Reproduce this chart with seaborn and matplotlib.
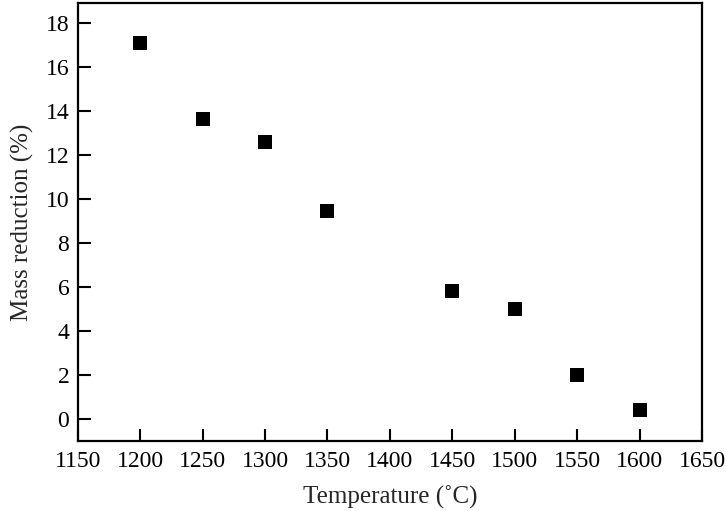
import matplotlib
matplotlib.use('Agg')
import matplotlib.pyplot as plt
import seaborn as sns
import pandas as pd

# datos
temperatura = [1200, 1250, 1300, 1350, 1450, 1500, 1550, 1600]
reduccion_masa = [17.1, 13.65, 12.6, 9.45, 5.8, 5.0, 2.0, 0.42]

df = pd.DataFrame({'temp': temperatura, 'masa': reduccion_masa})

sns.set_style('white')
plt.rcParams['font.family'] = ['Liberation Serif', 'DejaVu Serif']
plt.rcParams['mathtext.fontset'] = 'stix'

fig = plt.figure(figsize=(7.26, 5.11), dpi=100)
ax = fig.add_axes([0.107, 0.137, 0.86, 0.857])

sns.scatterplot(data=df, x='temp', y='masa', marker='s', s=110, color='black',
                edgecolor='black', linewidth=0, ax=ax)

ax.set_xlim(1150, 1650)
ax.set_ylim(-1, 18.9)
xt = list(range(1150, 1651, 50))
yt = list(range(0, 19, 2))
ax.set_xticks(xt)
ax.set_xticklabels([str(v) for v in xt], family='Liberation Serif', fontsize=17)
ax.set_yticks(yt)
ax.set_yticklabels([str(v) for v in yt], family='Liberation Serif', fontsize=17)
ax.tick_params(direction='in', length=9, width=1.5, top=False, right=False,
               bottom=True, left=True, colors='black')
ax.tick_params(axis='x', pad=7)
ax.tick_params(axis='y', pad=6)
for s in ax.spines.values():
    s.set_linewidth(1.6)
    s.set_color('black')

ax.set_xlabel('Temperature (˚C)', fontsize=18, family='Liberation Serif', labelpad=10)
ax.set_ylabel('Mass reduction (%)', fontsize=18, family='Liberation Serif', labelpad=8)

plt.savefig('out.png', dpi=100)
